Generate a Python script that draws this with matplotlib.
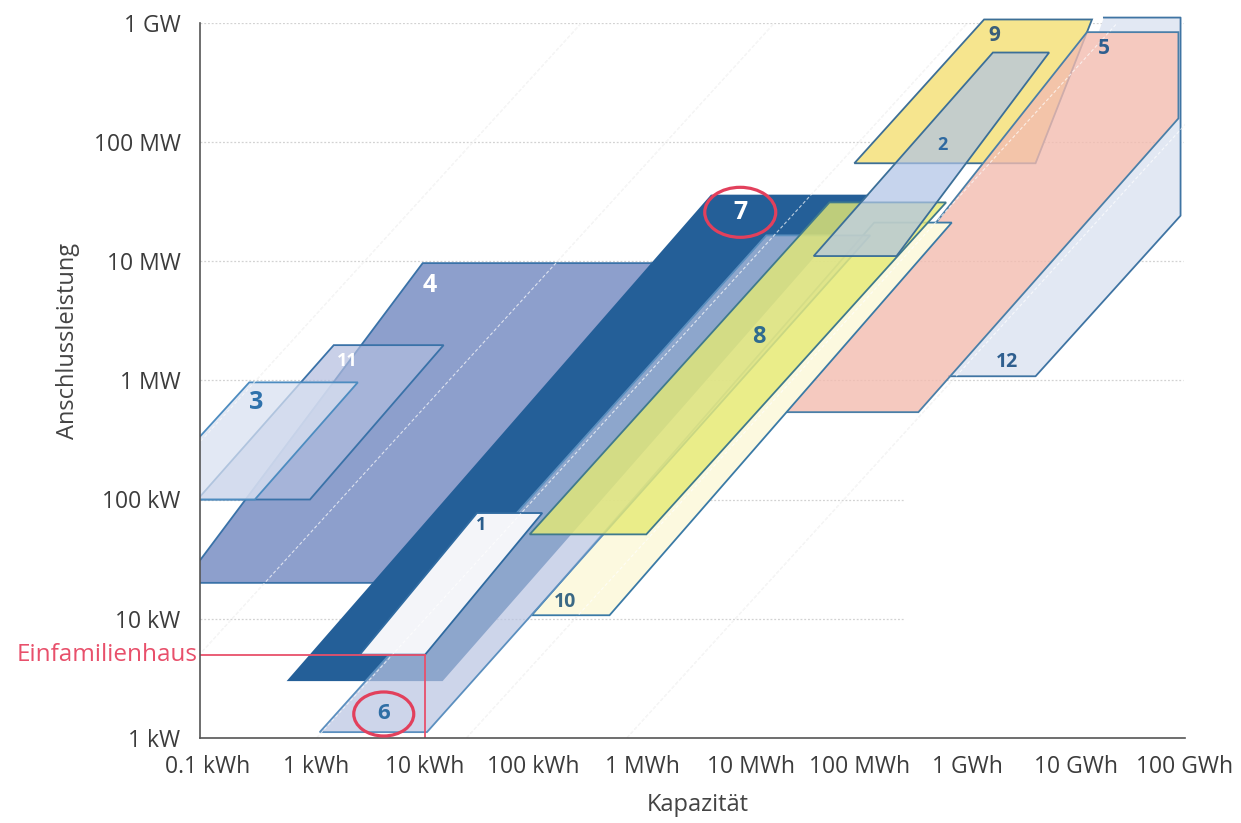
import matplotlib.pyplot as plt
import numpy as np
from matplotlib.patches import Polygon, Ellipse
from matplotlib.transforms import ScaledTranslation

plt.rcParams["font.family"] = ["Open Sans", "DejaVu Sans"]

# --- Data: corners of each application area, capacity in kWh / power in kW ---
cap_1 = [2.5, 10, 120, 30]
pow_1 = [5, 5, 77, 77]
cap_2 = [3.8e4, 2.2e5, 5.6e6, 1.7e6]
pow_2 = [1.1e4, 1.1e4, 5.6e5, 5.6e5]
cap_3 = [0.025, 0.27, 2.4, 0.24]
pow_3 = [100, 100, 960, 960]
cap_4 = [0.059, 8.9, 1440, 9.5]
pow_4 = [20, 20, 9600, 9600]
cap_5 = [2.1e4, 3.5e5, 8.7e7, 8.7e7, 1.25e7]
pow_5 = [540, 540, 1.57e5, 8.3e5, 8.3e5]
cap_6 = [1.07, 10.4, 1.26e5, 1.39e4]
pow_6 = [1.12, 1.12, 1.64e4, 1.64e4]
cap_7 = [0.53, 14.5, 1.23e5, 4.3e3]
pow_7 = [3.0, 3.0, 3.6e4, 3.6e4]
cap_8 = [92, 1090, 6.3e5, 5.3e4]
pow_8 = [51, 51, 3.1e4, 3.1e4]
cap_9 = [9.0e4, 4.2e6, 1.39e7, 1.41e6]
pow_9 = [6.6e4, 6.6e4, 1.06e6, 1.06e6]
cap_10 = [96, 500, 7.1e5, 1.37e5]
pow_10 = [10.7, 10.7, 2.1e4, 2.1e4]
cap_11 = [0.08, 0.87, 14.8, 1.44]
pow_11 = [100, 100, 1970, 1970]
# area 12: visible outline first, then the part tucked behind area 5
cap_12 = [6.7e5, 4.2e6, 9.1e7, 9.1e7, 1.79e7, 1.6e7, 8.7e7, 8.7e7]
pow_12 = [1080, 1080, 2.4e4, 1.1e6, 1.1e6, 8.3e5, 8.3e5, 1.57e5]

# label anchor per area (kWh, kW)
label_names = ["1", "2", "3", "4", "5", "6", "7", "8", "9", "10", "11", "12"]
label_cap = [33, 5.8e5, 0.28, 11, 1.79e7, 4.16, 8000, 12000, 1.74e6, 196, 1.94, 2.29e6]
label_pow = [61, 9.35e4, 655, 6270, 6.1e5, 1.59, 25600, 2300, 7.8e5, 13.8, 1445, 1420]

# household reference point
house_cap = 10
house_pow = 5

# iso discharge-time lines in hours: 1 s, 1 min, 1 h, 1 day, 1 month
iso_hours = [1 / 3600, 1 / 60, 1, 24, 720]

x_ticks = [0.1, 1, 10, 100, 1e3, 1e4, 1e5, 1e6, 1e7, 1e8]
x_labels = ["0.1 kWh", "1 kWh", "10 kWh", "100 kWh", "1 MWh", "10 MWh",
            "100 MWh", "1 GWh", "10 GWh", "100 GWh"]
y_ticks = [1, 10, 100, 1e3, 1e4, 1e5, 1e6]
y_labels = ["1 kW", "10 kW", "100 kW", "1 MW", "10 MW", "100 MW", "1 GW"]


def main():
    fig = plt.figure(figsize=(12.41, 8.23), dpi=100)
    ax = fig.add_axes([200 / 1241, 1 - 738 / 823, 985 / 1241, 715.5 / 823])
    ax.set_xscale("log")
    ax.set_yscale("log")
    xlo, xhi = 10 ** -1.0736, 10 ** 7.99
    ax.set_xlim(xlo, xhi)
    ax.set_ylim(1, 1e6)

    # --- grid (short lines for the two lowest decades) ---
    grid_kw = dict(color="#d2d2d2", lw=0.9, ls=(0, (1.5, 1.5)), zorder=0.5)
    ax.hlines([10, 100], xlo, 2.6e5, **grid_kw)
    ax.hlines([1e3, 1e4, 1e5, 1e6], xlo, 9.5e7, **grid_kw)

    # iso-time diagonals: grey under the areas, white on top of them
    p_line = np.array([1e-2, 1e7])
    for t in iso_hours:
        ax.plot(p_line * t, p_line, color="#e4e4e4", lw=0.8,
                ls=(0, (3, 2)), zorder=0.6)
        ax.plot(p_line * t, p_line, color="white", lw=0.8, alpha=0.7,
                ls=(0, (3, 2)), zorder=14)

    # --- areas (drawn back to front) ---
    areas = [
        (cap_12, pow_12, "#e2e8f3", 1.0, None, 2, False),
        (cap_9, pow_9, "#f6e58e", 1.0, "#3d6f96", 3, False),
        (cap_5, pow_5, "#f3bcb0", 0.8, "#4a7fa8", 4, False),
        (cap_10, pow_10, "#fcf9df", 1.0, "#3a7aa6", 5, True),
        (cap_4, pow_4, "#8d9fcc", 1.0, "#3a72a8", 6, True),
        (cap_7, pow_7, "#245f98", 1.0, None, 7, True),
        (cap_6, pow_6, "#b9c4e2", 0.71, "#5b8fbf", 8, True),
        (cap_1, pow_1, "#f4f5f9", 1.0, "#2f6aa0", 9, True),
        (cap_8, pow_8, "#e6ea74", 0.8, "#3f7a8c", 10, True),
        (cap_2, pow_2, "#afc3e6", 0.7, "#3b6f98", 11, True),
        (cap_11, pow_11, "#b2bddf", 0.7, "#3a72a8", 12, True),
        (cap_3, pow_3, "#d9e1f1", 0.75, "#4d8cc0", 13, True),
    ]
    for cap, pw, face, alpha, edge, z, clip in areas:
        poly = Polygon(np.column_stack([cap, pw]), closed=True,
                       facecolor=face, alpha=alpha, edgecolor="none",
                       zorder=z, clip_on=clip)
        ax.add_patch(poly)
        if edge is not None:
            outline = Polygon(np.column_stack([cap, pw]), closed=True,
                              fill=False, edgecolor=edge, lw=1.3,
                              zorder=z + 0.5, clip_on=clip)
            ax.add_patch(outline)

    # area 12 only shows part of its outline
    ax.plot(cap_12[:5], pow_12[:5], color="#3f74a3", lw=1.3, zorder=2.5,
            clip_on=False)

    # --- numbers ---
    num_style = {
        "1": (13, "#2a5d8c"), "2": (13, "#2f69a0"), "3": (18, "#2f72ac"),
        "4": (18, "white"), "5": (15, "#2f5f8f"), "6": (16, "#2f6ea5"),
        "7": (18, "white"), "8": (17, "#2f6b8f"), "9": (15, "#3a5f7a"),
        "10": (14, "#3b6985"), "11": (13, "white"), "12": (14, "#2f5f8f"),
    }
    for name, cx, py in zip(label_names, label_cap, label_pow):
        size, col = num_style[name]
        ax.text(cx, py, name, ha="center", va="center", fontsize=size,
                fontweight="bold", color=col, zorder=20)

    # red rings around 6 and 7
    for name, w, h in [("6", 0.60, 0.44), ("7", 0.71, 0.50)]:
        i = label_names.index(name)
        ring = Ellipse((0, 0), w, h, fill=False, edgecolor="#e2405c", lw=2.3,
                       transform=fig.dpi_scale_trans
                       + ScaledTranslation(label_cap[i], label_pow[i],
                                           ax.transData),
                       zorder=21)
        fig.add_artist(ring)

    # --- household marker ---
    red = "#e8506b"
    ax.plot([xlo, house_cap], [house_pow, house_pow], color=red, lw=1.3,
            zorder=16)
    ax.plot([house_cap, house_cap], [house_pow, 1], color=red, lw=1.3,
            zorder=16)
    ax.annotate("Einfamilienhaus", xy=(xlo, house_pow), xytext=(-1.5, 0),
                textcoords="offset points", ha="right", va="center",
                fontsize=17.5, color=red, annotation_clip=False)

    # --- axes styling ---
    for side in ["top", "right"]:
        ax.spines[side].set_visible(False)
    for side in ["left", "bottom"]:
        ax.spines[side].set_color("#555555")
        ax.spines[side].set_linewidth(1.2)
        ax.spines[side].set_zorder(22)
    ax.xaxis.set_minor_locator(plt.NullLocator())
    ax.yaxis.set_minor_locator(plt.NullLocator())
    ax.set_xticks(x_ticks, x_labels)
    ax.set_yticks(y_ticks, y_labels)
    ax.tick_params(axis="both", which="both", length=0, labelsize=16.5,
                   labelcolor="#3c3c3c")
    ax.tick_params(axis="x", pad=12)
    ax.tick_params(axis="y", pad=14)

    fig.text(68 / 1241, 1 - 341 / 823, "Anschlussleistung", rotation=90,
             ha="center", va="center", fontsize=17, color="#444444")
    fig.text(698 / 1241, 1 - 805 / 823, "Kapazität", ha="center",
             va="center", fontsize=17, color="#444444")

    fig.savefig("out.png", dpi=100)


if __name__ == "__main__":
    main()
